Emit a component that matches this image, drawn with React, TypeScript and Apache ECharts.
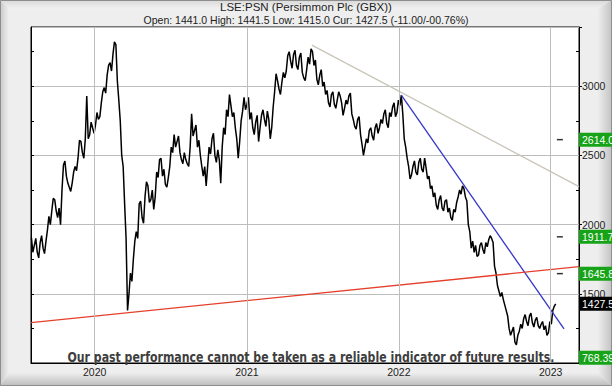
import React, { useEffect, useRef } from 'react';
import * as echarts from 'echarts';

const TITLE = 'LSE:PSN (Persimmon Plc (GBX))';
const SUBTITLE = 'Open: 1441.0 High: 1441.5 Low: 1415.0 Cur: 1427.5 (-11.00/-00.76%)';
const DISCLAIMER = 'Our past performance cannot be taken as a reliable indicator of future results.';

// weekly closes, first week 2019-08-02
const firstWeek = '2019-08-02';
const weeklyCloses = [
  1905, 1850, 1800, 1870, 1830, 1880, 2060, 2100, 2180, 2050,
  2000, 2430, 2350, 2270, 2300, 2420, 2480, 2600, 2480, 2930,
  2650, 2700, 2720, 2760, 2880, 2990, 3080, 3170, 3230, 3300,
  2900, 2500, 2150, 1380, 1650, 1750, 1950, 2150, 2050, 2200,
  2280, 2180, 2110, 2380, 2470, 2350, 2290, 2340, 2560, 2650,
  2600, 2520, 2440, 2470, 2420, 2800, 2680, 2560, 2500, 2350,
  2280, 2560, 2620, 2500, 2540, 2300, 2700, 2830, 2940, 2780,
  2700, 2480, 2750, 2920, 2870, 2760, 2700, 2740, 2600, 2790,
  2760, 2820, 2620, 2850, 3090, 2980, 3030, 3060, 3220, 3180,
  3230, 3150, 3210, 3100, 3040, 3210, 3270, 3150, 3050, 3080,
  3000, 2940, 2880, 2940, 2870, 2900, 2930, 2790, 2900, 2930,
  2800, 2710, 2760, 2650, 2500, 2620, 2680, 2640, 2700, 2660,
  2760, 2800, 2730, 2810, 2850, 2780, 2900, 2935, 2620, 2480,
  2330, 2420, 2380, 2450, 2400, 2480, 2330, 2260, 2200, 2140,
  2180, 2120, 2170, 2090, 2050, 2110, 2160, 2250, 2280, 2200,
  2000, 1830, 1800, 1770, 1850, 1820, 1870, 1890, 1900, 1700,
  1560, 1480, 1460, 1380, 1250, 1230, 1150, 1200, 1280, 1320,
  1300, 1340, 1290, 1310, 1270, 1280, 1240, 1200, 1300, 1380,
  1427.5,
];
// mid-week swings (between each close and the next)
const midweekSwings = [
  1800, 1900, 1760, 1920, 1790, 1960, 2000, 2190, 2100, 2120,
  2250, 2460, 2300, 2240, 2380, 2390, 2610, 2520, 2620, 2620,
  2740, 2660, 2810, 2780, 2960, 2950, 3150, 3110, 3320, 3040,
  2750, 2420, 1900, 1500, 1590, 1880, 1900, 2170, 2010, 2310,
  2160, 2250, 2200, 2340, 2480, 2400, 2270, 2420, 2520, 2560,
  2640, 2470, 2520, 2440, 2560, 2640, 2720, 2610, 2420, 2420,
  2420, 2510, 2660, 2450, 2470, 2560, 2650, 2780, 2860, 2810,
  2620, 2600, 2820, 2830, 2920, 2810, 2650, 2790, 2700, 2830,
  2710, 2760, 2700, 2960, 3040, 2940, 3100, 3110, 3250, 3130,
  3260, 3120, 3240, 3060, 3120, 3160, 3250, 3190, 3010, 3120,
  3030, 2970, 2850, 2960, 2840, 2960, 2880, 2840, 2870, 2950,
  2760, 2690, 2780, 2580, 2560, 2590, 2700, 2610, 2730, 2700,
  2730, 2830, 2700, 2780, 2880, 2810, 2860, 2800, 2560, 2420,
  2360, 2460, 2360, 2480, 2380, 2410, 2350, 2280, 2230, 2110,
  2210, 2100, 2180, 2120, 2030, 2090, 2200, 2220, 2260, 2170,
  1950, 1880, 1850, 1780, 1870, 1790, 1840, 1920, 1870, 1650,
  1520, 1510, 1420, 1340, 1200, 1260, 1130, 1230, 1250, 1350,
  1270, 1360, 1260, 1330, 1250, 1300, 1270, 1220, 1280, 1410,
];

const xStart = '2019-08-01';
const xEnd = '2023-03-10';
const yearTicks = ['2020-01-01', '2021-01-01', '2022-01-01', '2023-01-01'];
const yMin = 1000;
const yMax = 3428;
const priceLabels = [1500, 2000, 2500, 3000];
const minorTicks = [1250, 1750, 2250, 2750, 3250];
const leftTicks = [1250, 1500, 1750, 2000, 2250, 2500, 2750, 3000, 3250];

const grayTrend: [string, number][] = [['2021-06-06', 3297], ['2023-03-10', 2275]];
const blueTrend: [string, number][] = [['2022-01-07', 2935], ['2023-02-02', 1246]];
const redTrend: [string, number][] = [['2019-08-01', 1292], ['2023-03-10', 1696]];

const targetLevels = [2614.0, 1911.7, 1645.8];
const currentPrice = 1427.5;
const offChartLevel = 768.39;
const offChartLabelAt = 1038;
const markerDate = '2023-01-23';

const DAY = 86400000;
const ts = (d: string) => Date.parse(d + 'T00:00:00Z');
const fmt = (v: number) => v.toFixed(v >= 1000 ? 1 : 2);

const FONT = '"Liberation Sans", Arial, sans-serif';

function buildOption() {
  const start = ts(firstWeek);
  const priceData: number[][] = [];
  weeklyCloses.forEach((v, i) => {
    priceData.push([start + i * 7 * DAY, v]);
    if (i < midweekSwings.length) priceData.push([start + i * 7 * DAY + 3.5 * DAY, midweekSwings[i]]);
  });
  const toPts = (arr: [string, number][]) => arr.map(([d, v]) => [ts(d), v]);

  const levelValues = [...targetLevels, currentPrice, offChartLabelAt];

  return {
    animation: false,
    backgroundColor: '#eeeeee',
    textStyle: { fontFamily: FONT },
    title: [
      {
        text: TITLE, left: 'center', top: 1, padding: 0,
        textStyle: { fontSize: 11.5, fontWeight: 'normal', color: '#222', fontFamily: FONT },
      },
      {
        text: SUBTITLE, left: 'center', top: 14, padding: 0,
        textStyle: { fontSize: 10.5, fontWeight: 'normal', color: '#222', fontFamily: FONT },
      },
    ],
    grid: {
      left: 31, top: 27, right: 33, bottom: 23,
      containLabel: false, outerBoundsMode: 'none',
      show: true, backgroundColor: '#ffffff', borderColor: '#000', borderWidth: 1,
    },
    xAxis: {
      type: 'value',
      min: ts(xStart),
      max: ts(xEnd),
      splitLine: { show: false },
      axisLine: { show: true, lineStyle: { color: '#000' } },
      axisTick: { show: false },
      axisLabel: {
        customValues: yearTicks.map(ts),
        formatter: (v: number) => String(new Date(v).getUTCFullYear()),
        fontSize: 10.5, color: '#222', margin: 3,
      },
    },
    yAxis: [
      {
        type: 'value', position: 'right', min: yMin, max: yMax, interval: 500,
        splitLine: { show: true, lineStyle: { color: '#bdbdbd', width: 1 } },
        axisLine: { show: true, lineStyle: { color: '#000' } },
        axisTick: { show: true, length: 3, lineStyle: { color: '#000' } },
        axisLabel: {
          formatter: (v: number) => (priceLabels.includes(v) ? String(v) : ''),
          fontSize: 10.5, color: '#222', margin: 3,
        },
      },
      {
        type: 'value', position: 'right', min: yMin, max: yMax,
        splitLine: { show: false },
        axisLine: { show: false },
        axisTick: { show: true, inside: true, length: 3, customValues: minorTicks, lineStyle: { color: '#000' } },
        axisLabel: { show: false },
      },
      {
        type: 'value', position: 'left', min: yMin, max: yMax,
        splitLine: { show: false },
        axisLine: { show: true, lineStyle: { color: '#000' } },
        axisTick: { show: true, inside: true, length: 3, customValues: leftTicks, lineStyle: { color: '#000' } },
        axisLabel: { show: false },
      },
      {
        type: 'value', position: 'right', min: yMin, max: yMax,
        splitLine: { show: false },
        axisLine: { show: false },
        axisTick: { show: false },
        axisLabel: {
          customValues: levelValues,
          margin: 0,
          formatter: (v: number) => {
            if (v === currentPrice) return '{b|' + fmt(v) + '}';
            if (v === offChartLabelAt) return '{g|' + fmt(offChartLevel) + '}';
            return '{g|' + fmt(v) + '}';
          },
          rich: {
            g: { backgroundColor: '#17a317', color: '#ffffff', fontSize: 10.5, padding: [2, 8, 1, 3], fontFamily: FONT },
            b: { backgroundColor: '#000000', color: '#ffffff', fontSize: 10.5, padding: [2, 8, 1, 3], fontFamily: FONT },
          },
        },
      },
    ],
    series: [
      {
        type: 'line', data: [], z: 1, silent: true,
        markLine: {
          silent: true, symbol: 'none', label: { show: false },
          lineStyle: { color: '#bdbdbd', type: 'solid', width: 1 },
          data: yearTicks.map((d) => ({ xAxis: ts(d) })),
        },
      },
      {
        type: 'line', data: priceData, z: 3, showSymbol: false,
        lineStyle: { color: '#000', width: 1.5 },
      },
      {
        type: 'line', data: toPts(grayTrend), z: 4, showSymbol: false,
        lineStyle: { color: '#c9c5b9', width: 1.3 },
      },
      {
        type: 'line', data: toPts(blueTrend), z: 4, showSymbol: false,
        lineStyle: { color: '#3535c8', width: 1.3 },
      },
      {
        type: 'line', data: toPts(redTrend), z: 4, showSymbol: false,
        lineStyle: { color: '#e4402c', width: 1.3 },
      },
      {
        type: 'scatter', z: 5, symbol: 'rect', symbolSize: [6, 1.5],
        itemStyle: { color: '#000' },
        data: targetLevels.map((v) => [ts(markerDate), v]),
      },
    ],
    graphic: [
      {
        type: 'polygon', silent: true, z: -10,
        shape: { points: [[0, 0], [612, 0], [597, 9], [9, 9]] },
        style: { fill: new echarts.graphic.LinearGradient(0, 0, 0, 1, [{ offset: 0, color: '#d9d9d9' }, { offset: 1, color: '#f1f1f1' }]) },
      },
      {
        type: 'polygon', silent: true, z: -10,
        shape: { points: [[0, 0], [9, 9], [9, 373], [0, 386]] },
        style: { fill: new echarts.graphic.LinearGradient(0, 0, 1, 0, [{ offset: 0, color: '#c9c9c9' }, { offset: 1, color: '#efefef' }]) },
      },
      {
        type: 'polygon', silent: true, z: -10,
        shape: { points: [[612, 0], [612, 386], [597, 373], [597, 9]] },
        style: { fill: new echarts.graphic.LinearGradient(0, 0, 1, 0, [{ offset: 0, color: '#f0f0f0' }, { offset: 1, color: '#c2c2c2' }]) },
      },
      {
        type: 'polygon', silent: true, z: -10,
        shape: { points: [[0, 386], [612, 386], [597, 373], [9, 373]] },
        style: { fill: new echarts.graphic.LinearGradient(0, 0, 0, 1, [{ offset: 0, color: '#ededed' }, { offset: 1, color: '#bcbcbc' }]) },
      },
      {
        type: 'rect', silent: true, z: -9,
        shape: { x: 0.5, y: 0.5, width: 611, height: 385 },
        style: { fill: 'none', stroke: '#8e8e8e', lineWidth: 1 },
      },
      {
        type: 'text', silent: true, z: 100,
        x: 311, y: 357, scaleX: 0.87,
        style: {
          text: DISCLAIMER,
          fill: '#3e3e3e',
          font: 'bold 14px "Liberation Sans Narrow", "DejaVu Sans Condensed", sans-serif',
          align: 'center', verticalAlign: 'middle',
        },
      },
    ],
  };
}

export default function App() {
  const ref = useRef<HTMLDivElement>(null);
  useEffect(() => {
    const chart = echarts.init(ref.current!, null, { renderer: 'svg' });
    chart.setOption(buildOption() as any);
    return () => chart.dispose();
  }, []);
  return (
    <div
      ref={ref}
      style={{ position: 'fixed', left: 0, top: 0, width: 612, height: 386 }}
    />
  );
}
